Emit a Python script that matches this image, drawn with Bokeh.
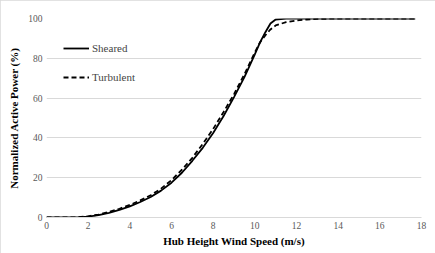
from bokeh.plotting import figure
from bokeh.models import Range1d, FixedTicker, Legend, LegendItem
from bokeh.embed import file_html
from bokeh.resources import INLINE

wind_sheared = [0, 1, 1.5, 2, 2.5, 3, 3.5, 4, 4.5, 5, 5.5, 6, 6.5, 7, 7.5, 8, 8.5, 9, 9.5, 10,
                10.25, 10.5, 10.75, 11, 11.5, 12, 13, 14, 15, 16, 17, 17.7]
power_sheared = [0, 0, 0, 0.4, 1.2, 2.3, 3.8, 5.6, 7.8, 10.3, 13.5, 17.5, 22.5, 28.5, 35, 42.5,
                 51, 60.5, 70.5, 82, 88, 93, 97.5, 99.5, 99.9, 100, 100, 100, 100, 100, 100, 100]

wind_turb = [0, 1, 1.5, 2, 2.5, 3, 3.5, 4, 4.5, 5, 5.5, 6, 6.5, 7, 7.5, 8, 8.5, 9, 9.5, 10,
             10.25, 10.5, 10.75, 11, 11.5, 12, 12.5, 13, 14, 15, 16, 17, 17.7]
power_turb = [0, 0, 0.1, 0.6, 1.5, 2.8, 4.4, 6.3, 8.6, 11.2, 14.5, 18.8, 24, 30, 37, 44.5,
              53, 62, 72, 83, 88, 91.5, 94.5, 96.5, 98.2, 99, 99.5, 99.8, 100, 100, 100, 100, 100]

x_ticks = [0, 2, 4, 6, 8, 10, 12, 14, 16, 18]
y_ticks = [0, 20, 40, 60, 80, 100]

FONT = "Liberation Serif"

p = figure(width=435, height=253, output_backend="svg", toolbar_location=None,
           x_range=Range1d(0, 18), y_range=Range1d(0, 100),
           min_border_left=46, min_border_right=14, min_border_top=18, min_border_bottom=36)
p.outline_line_color = None
p.border_fill_color = "white"
p.styles = {"outline": "1px solid #d9d9d9", "outline-offset": "-1px"}

p.xgrid.visible = False
p.ygrid.grid_line_color = "#d9d9d9"
p.ygrid.ticker = FixedTicker(ticks=y_ticks)

p.xaxis.ticker = FixedTicker(ticks=x_ticks)
p.yaxis.ticker = FixedTicker(ticks=y_ticks)
for ax in (p.xaxis[0], p.yaxis[0]):
    ax.major_tick_line_color = None
    ax.minor_tick_line_color = None
    ax.major_tick_in = 0
    ax.major_tick_out = 0
    ax.major_label_text_font = FONT
    ax.major_label_text_font_size = "9.5px"
    ax.major_label_text_color = "#595959"
    ax.axis_label_text_font = FONT
    ax.axis_label_text_font_size = "11px"
    ax.axis_label_text_font_style = "bold"
    ax.axis_label_text_color = "#000000"
p.xaxis.axis_line_color = "#d9d9d9"
p.yaxis.axis_line_color = None
p.xaxis.axis_label = "Hub Height Wind Speed (m/s)"
p.yaxis.axis_label = "Normalized Active Power (%)"
p.xaxis.major_label_standoff = 4
p.xaxis.axis_label_standoff = 3
p.yaxis.major_label_standoff = 4
p.yaxis.axis_label_standoff = 5

r1 = p.line(wind_sheared, power_sheared, line_color="black", line_width=1.8)
r2 = p.line(wind_turb, power_turb, line_color="black", line_width=1.8, line_dash="5 3")

legend = Legend(items=[LegendItem(label="Sheared", renderers=[r1]),
                       LegendItem(label="Turbulent", renderers=[r2])],
                location=(17, 133))
legend.background_fill_alpha = 0
legend.border_line_color = None
legend.label_text_font = FONT
legend.label_text_font_size = "11px"
legend.glyph_width = 26
legend.label_standoff = 3
legend.spacing = 15
legend.label_height = 14
legend.glyph_height = 14
p.add_layout(legend)

open("out.html", "w").write(file_html(p, INLINE))
